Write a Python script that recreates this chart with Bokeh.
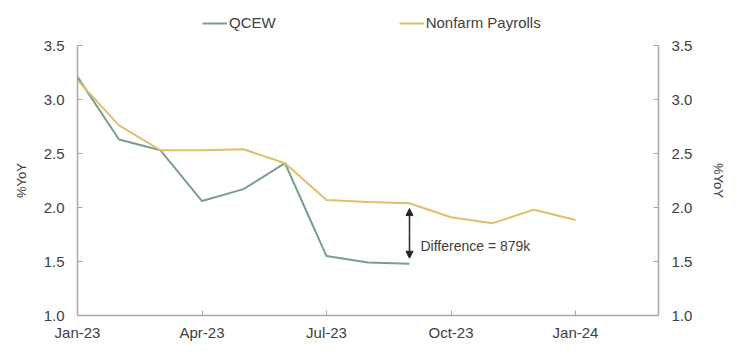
from bokeh.plotting import figure
from bokeh.layouts import column
from bokeh.models import (Range1d, LinearAxis, FixedTicker, Legend, LegendItem,
                          Arrow, NormalHead, Label, NumeralTickFormatter)
from bokeh.embed import file_html
from bokeh.resources import INLINE

# ---- data ----
months = ["Jan-23", "Feb-23", "Mar-23", "Apr-23", "May-23", "Jun-23", "Jul-23",
          "Aug-23", "Sep-23", "Oct-23", "Nov-23", "Dec-23", "Jan-24"]
qcew = [3.21, 2.63, 2.53, 2.06, 2.17, 2.41, 1.55, 1.49, 1.48]
nonfarm = [3.18, 2.76, 2.53, 2.53, 2.54, 2.41, 2.07, 2.05, 2.04, 1.91, 1.855, 1.98, 1.885]
x_tick_pos = [0, 3, 6, 9, 12]
x_tick_labels = ["Jan-23", "Apr-23", "Jul-23", "Oct-23", "Jan-24"]
y_ticks = [1.0, 1.5, 2.0, 2.5, 3.0, 3.5]
diff_label = "Difference = 879k"
diff_month = "Sep-23"
series_names = ["QCEW", "Nonfarm Payrolls"]

FONT = "Liberation Sans"
TXT = "#404040"
AX = "#A6A6A6"
GREEN = "#7A9E8E"
GOLD = "#E2BD6B"

xq = list(range(len(qcew)))
xn = list(range(len(nonfarm)))

W = 729
LEG_H = 34

p = figure(width=W, height=319, output_backend="svg", toolbar_location=None,
           x_range=Range1d(0, 14), y_range=Range1d(1.0, 3.5),
           min_border_left=77, min_border_right=70, min_border_top=11,
           min_border_bottom=38)
p.outline_line_color = None
p.xgrid.visible = False
p.ygrid.visible = False
p.background_fill_color = "white"
p.border_fill_color = "white"

p.line(xq, qcew, line_color=GREEN, line_width=2)
p.line(xn, nonfarm, line_color=GOLD, line_width=2)

def style_axis(ax):
    ax.axis_line_color = AX
    ax.axis_line_width = 1.5
    ax.major_tick_line_color = AX
    ax.major_tick_line_width = 1
    ax.major_tick_in = 5
    ax.major_tick_out = 0
    ax.minor_tick_line_color = None
    ax.major_label_text_font = FONT
    ax.major_label_text_font_size = "15px"
    ax.major_label_text_color = TXT
    ax.axis_label_text_font = FONT
    ax.axis_label_text_font_size = "13px"
    ax.axis_label_text_font_style = "normal"
    ax.axis_label_text_color = TXT

# x axis
xa = p.xaxis[0]
style_axis(xa)
xa.ticker = FixedTicker(ticks=x_tick_pos)
xa.major_label_overrides = {t: l for t, l in zip(x_tick_pos, x_tick_labels)}
xa.major_label_standoff = 8

# left y axis
ya = p.yaxis[0]
style_axis(ya)
ya.ticker = FixedTicker(ticks=y_ticks)
ya.formatter = NumeralTickFormatter(format="0.0")
ya.major_label_standoff = 13
ya.axis_label = "%YoY"
ya.axis_label_standoff = 12

# right y axis
yr = LinearAxis()
style_axis(yr)
yr.ticker = FixedTicker(ticks=y_ticks)
yr.formatter = NumeralTickFormatter(format="0.0")
yr.major_label_standoff = 13
yr.axis_label = "%YoY"
yr.axis_label_standoff = 16
p.add_layout(yr, "right")

# difference arrow and label
xi = months.index(diff_month)
y_lo = qcew[xi] + 0.05
y_hi = nonfarm[xi] - 0.05
p.add_layout(Arrow(x_start=xi, y_start=(y_lo + y_hi) / 2, x_end=xi, y_end=y_hi,
                   line_color="#262626", line_width=1.5,
                   end=NormalHead(size=7, fill_color="#262626", line_color="#262626")))
p.add_layout(Arrow(x_start=xi, y_start=(y_lo + y_hi) / 2, x_end=xi, y_end=y_lo,
                   line_color="#262626", line_width=1.5,
                   end=NormalHead(size=7, fill_color="#262626", line_color="#262626")))
p.add_layout(Label(x=xi, y=(y_lo + y_hi) / 2 - 0.115, x_offset=11, text=diff_label,
                   text_font=FONT, text_font_size="14px", text_color=TXT,
                   text_baseline="middle"))

# legend strip above the chart (legend swatches reuse the series, drawn off-range)
lf = figure(width=W, height=LEG_H, output_backend="svg", toolbar_location=None,
            x_range=Range1d(100, 101), y_range=Range1d(100, 101),
            min_border_left=0, min_border_right=0, min_border_top=0,
            min_border_bottom=0)
lf.axis.visible = False
lf.grid.visible = False
lf.outline_line_color = None
lf.border_fill_color = "white"
lf.background_fill_color = "white"
rq = lf.line(xq, qcew, line_color=GREEN, line_width=2)
rn = lf.line(xn, nonfarm, line_color=GOLD, line_width=2)
legend = Legend(items=[LegendItem(label=series_names[0], renderers=[rq]),
                       LegendItem(label=series_names[1], renderers=[rn])],
                orientation="horizontal", location=(125, 3),
                padding=0, margin=0, spacing=123, glyph_width=25, glyph_height=16,
                label_height=16, label_standoff=2, label_text_font=FONT,
                label_text_font_size="15px", label_text_color=TXT,
                border_line_color=None, background_fill_alpha=0)
lf.add_layout(legend, "center")

layout = column(lf, p, spacing=0)
open("out.html", "w").write(file_html(layout, INLINE))
